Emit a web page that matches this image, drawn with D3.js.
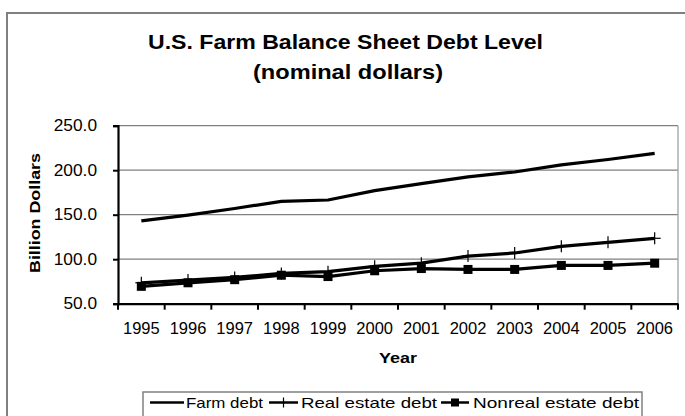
<!DOCTYPE html>
<html><head><meta charset="utf-8">
<script src="https://cdn.jsdelivr.net/npm/d3@7"></script>
<style>html,body{margin:0;padding:0;background:#fff;}svg{display:block;font-family:Arial,"Liberation Sans",sans-serif;}</style>
</head><body>
<svg id="c" width="685" height="416"></svg>
<script>
const years = ["1995","1996","1997","1998","1999","2000","2001","2002","2003","2004","2005","2006"];
const farmDebt = [143,149.5,157,165,166.5,177,185,192.5,198,206,212,219];
const realEstateDebt = [73.5,76.5,79.5,84,86,92,95.5,103.5,107,114.5,119,123.5];
const nonrealEstateDebt = [69.5,73.5,77,82,80.5,87,89.5,88.5,88.5,93,93,95.5];
const yTicks = [50,100,150,200,250];
const seriesNames = ["Farm debt","Real estate debt","Nonreal estate debt"];
const titleLines = ["U.S. Farm Balance Sheet Debt Level","(nominal dollars)"];

const svg = d3.select("#c");
function stretch(f){
  return sel => sel.each(function(){
    const w = this.getComputedTextLength();
    d3.select(this).attr("textLength", w*f).attr("lengthAdjust","spacingAndGlyphs");
  });
}
function fitTo(w){
  return sel => sel.attr("textLength", w).attr("lengthAdjust","spacingAndGlyphs");
}

// outer frame
svg.append("rect").attr("x",7).attr("y",13).attr("width",700).attr("height",450)
  .attr("fill","none").attr("stroke","#808080").attr("stroke-width",2);

// title
svg.append("text").attr("x",345.5).attr("y",49).attr("text-anchor","middle")
  .attr("font-weight","bold").attr("font-size",20).attr("fill","#000").text(titleLines[0]).call(fitTo(395));
svg.append("text").attr("x",348).attr("y",79).attr("text-anchor","middle")
  .attr("font-weight","bold").attr("font-size",20).attr("fill","#000").text(titleLines[1]).call(fitTo(190));

const x = d3.scaleBand().domain(years).range([118,678]).padding(0);
const y = d3.scaleLinear().domain([50,250]).range([303.7,125.7]);

// gridlines
svg.append("g").selectAll("line").data(yTicks.filter(d=>d>50)).join("line")
  .attr("x1",118).attr("x2",678).attr("y1",d=>y(d)).attr("y2",d=>y(d))
  .attr("stroke","#808080").attr("stroke-width",1.3);
// right border of plot
svg.append("line").attr("x1",678).attr("x2",678).attr("y1",y(250)).attr("y2",y(50))
  .attr("stroke","#a0a0a0").attr("stroke-width",1.3);

// y axis
const yAxis = svg.append("g").attr("transform","translate(118,0)")
  .call(d3.axisLeft(y).tickValues(yTicks).tickFormat(d3.format(".1f")).tickSize(5).tickPadding(16));
yAxis.select(".domain").attr("stroke","#000").attr("stroke-width",2.2);
yAxis.selectAll(".tick line").attr("stroke","#000").attr("stroke-width",2);
yAxis.selectAll(".tick text").attr("font-size",16).attr("fill","#000").attr("font-family","Arial, 'Liberation Sans', sans-serif").call(stretch(1.08));

// x axis
const xAxis = svg.append("g").attr("transform",`translate(0,${y(50)})`)
  .call(d3.axisBottom(x).tickSize(0).tickPadding(19));
xAxis.select(".domain").attr("stroke","#000").attr("stroke-width",2.2);
xAxis.selectAll(".tick text").attr("font-size",16).attr("fill","#000").attr("font-family","Arial, 'Liberation Sans', sans-serif").call(stretch(1.03));
// x tick marks at category boundaries
const bounds = years.map(d=>x(d)).concat([x(years[years.length-1])+x.bandwidth()]);
svg.append("g").selectAll("line").data(bounds).join("line")
  .attr("x1",d=>d).attr("x2",d=>d).attr("y1",y(50)).attr("y2",y(50)+6)
  .attr("stroke","#000").attr("stroke-width",2);

// axis titles
svg.append("text").attr("transform",`translate(40,213) rotate(-90)`).attr("text-anchor","middle")
  .attr("font-weight","bold").attr("font-size",15).text("Billion Dollars").call(fitTo(120));
svg.append("text").attr("x",398).attr("y",363).attr("text-anchor","middle")
  .attr("font-weight","bold").attr("font-size",15).text("Year").call(fitTo(38));

const cx = d => x(d)+x.bandwidth()/2;
const line = d3.line().x((v,i)=>cx(years[i])).y(v=>y(v));

const series = [farmDebt, realEstateDebt, nonrealEstateDebt];
series.forEach(s=>{
  svg.append("path").datum(s).attr("d",line).attr("fill","none")
    .attr("stroke","#000").attr("stroke-width",3.2).attr("stroke-linejoin","round");
});
// cross markers for real estate debt
const cross = svg.append("g");
realEstateDebt.forEach((v,i)=>{
  const px = cx(years[i]), py = y(v);
  cross.append("line").attr("x1",px).attr("x2",px).attr("y1",py-6).attr("y2",py+6).attr("stroke","#000").attr("stroke-width",1.2);
  cross.append("line").attr("x1",px-6).attr("x2",px+6).attr("y1",py).attr("y2",py).attr("stroke","#000").attr("stroke-width",1.2);
});
// square markers for nonreal estate debt
svg.append("g").selectAll("rect").data(nonrealEstateDebt).join("rect")
  .attr("x",(v,i)=>cx(years[i])-4.5).attr("y",v=>y(v)-4.5).attr("width",9).attr("height",9).attr("fill","#000");

// legend
const lg = svg.append("g");
lg.append("rect").attr("x",143).attr("y",392).attr("width",499).attr("height",40)
  .attr("fill","#fff").attr("stroke","#808080").attr("stroke-width",1.5);
const legendItems = [
  {name:seriesNames[0], x0:150, x1:184, tx:186, tw:77, m:null},
  {name:seriesNames[1], x0:269, x1:298, tx:301, tw:136, m:"cross"},
  {name:seriesNames[2], x0:441, x1:469, tx:473, tw:166, m:"square"}
];
const ly = 402.5;
legendItems.forEach(it=>{
  lg.append("line").attr("x1",it.x0).attr("x2",it.x1).attr("y1",ly).attr("y2",ly).attr("stroke","#000").attr("stroke-width",2.5);
  const mx=(it.x0+it.x1)/2;
  if(it.m==="cross"){
    lg.append("line").attr("x1",mx).attr("x2",mx).attr("y1",ly-5).attr("y2",ly+5).attr("stroke","#000").attr("stroke-width",1.2);
  } else if(it.m==="square"){
    lg.append("rect").attr("x",mx-4).attr("y",ly-4).attr("width",8).attr("height",8).attr("fill","#000");
  }
  lg.append("text").attr("x",it.tx).attr("y",ly+5.5).attr("font-size",15).attr("fill","#000").text(it.name).call(fitTo(it.tw));
});
</script>
</body></html>
